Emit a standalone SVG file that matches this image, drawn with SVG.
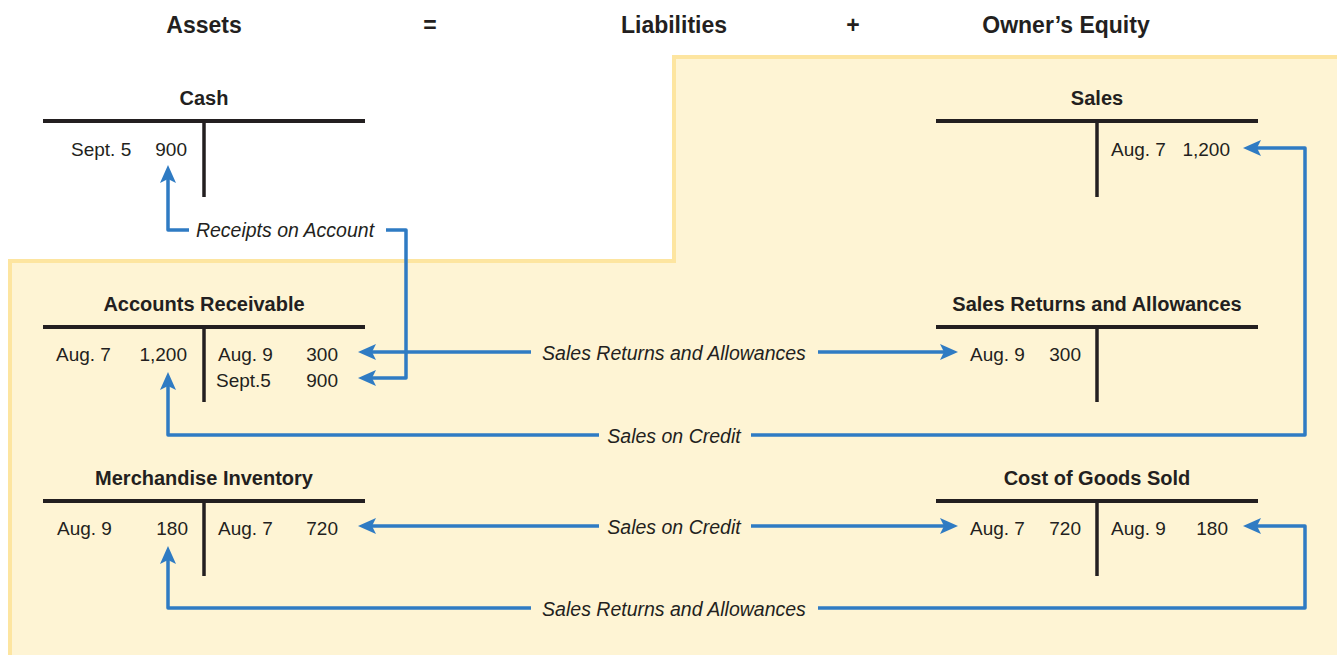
<svg xmlns="http://www.w3.org/2000/svg" width="1337" height="655" viewBox="0 0 1337 655">
<defs>
<style>
.hd{font-family:"Liberation Sans",Arial,sans-serif;font-weight:bold;font-size:23px;fill:#231F20;text-anchor:middle}
.tt{font-family:"Liberation Sans",Arial,sans-serif;font-weight:bold;font-size:20px;fill:#231F20;text-anchor:middle}
.d{font-family:"Liberation Sans",Arial,sans-serif;font-size:19px;fill:#231F20}
.n{text-anchor:end}
.lb{font-family:"Liberation Sans",Arial,sans-serif;font-style:italic;font-size:19.5px;fill:#231F20;text-anchor:middle}
.bar{stroke:#231F20;stroke-width:4;fill:none}
.stem{stroke:#231F20;stroke-width:3.5;fill:none}
.con{stroke:#2F7BC3;stroke-width:3.5;fill:none;stroke-linejoin:round;marker-start:url(#ah);marker-end:url(#ah)}
</style>
<marker id="ah" markerUnits="userSpaceOnUse" viewBox="-9 -9 20 18" refX="0" refY="0" markerWidth="20" markerHeight="18" orient="auto-start-reverse">
<path d="M10,0 L-8,-8 L-4,0 L-8,8 Z" fill="#2F7BC3"/>
</marker>
</defs>
<rect width="1337" height="655" fill="#FFFFFF"/>
<path id="equity-area" d="M674,57 H1345 V665 H10 V261 H674 Z" fill="#FEF4D4" stroke="#FDE5A0" stroke-width="4"/>
<g id="header">
<text class="hd" x="204" y="33">Assets</text>
<text class="hd" x="430" y="33">=</text>
<text class="hd" x="674" y="33">Liabilities</text>
<text class="hd" x="853" y="33">+</text>
<text class="hd" x="1066" y="33">Owner’s Equity</text>
</g>
<g id="cash">
<text class="tt" x="204" y="105">Cash</text>
<path class="bar" d="M43,121 H365"/>
<path class="stem" d="M204,121 V197"/>
<text class="d" x="71" y="156">Sept. 5</text>
<text class="d n" x="187" y="156">900</text>
</g>
<g id="sales">
<text class="tt" x="1097" y="105">Sales</text>
<path class="bar" d="M936,121 H1258"/>
<path class="stem" d="M1097,121 V197"/>
<text class="d" x="1111" y="156">Aug. 7</text>
<text class="d n" x="1230" y="156">1,200</text>
</g>
<g id="accounts-receivable">
<text class="tt" x="204" y="311">Accounts Receivable</text>
<path class="bar" d="M43,327 H365"/>
<path class="stem" d="M204,327 V402"/>
<text class="d" x="56" y="361">Aug. 7</text>
<text class="d n" x="187" y="361">1,200</text>
<text class="d" x="218" y="361">Aug. 9</text>
<text class="d n" x="338" y="361">300</text>
<text class="d" x="216" y="387">Sept.5</text>
<text class="d n" x="338" y="387">900</text>
</g>
<g id="sales-returns">
<text class="tt" x="1097" y="311">Sales Returns and Allowances</text>
<path class="bar" d="M936,327 H1258"/>
<path class="stem" d="M1097,327 V402"/>
<text class="d" x="970" y="361">Aug. 9</text>
<text class="d n" x="1081" y="361">300</text>
</g>
<g id="merchandise-inventory">
<text class="tt" x="204" y="485">Merchandise Inventory</text>
<path class="bar" d="M43,501 H365"/>
<path class="stem" d="M204,501 V576"/>
<text class="d" x="57" y="535">Aug. 9</text>
<text class="d n" x="188" y="535">180</text>
<text class="d" x="218" y="535">Aug. 7</text>
<text class="d n" x="338" y="535">720</text>
</g>
<g id="cost-of-goods-sold">
<text class="tt" x="1097" y="485">Cost of Goods Sold</text>
<path class="bar" d="M936,501 H1258"/>
<path class="stem" d="M1097,501 V576"/>
<text class="d" x="970" y="535">Aug. 7</text>
<text class="d n" x="1081" y="535">720</text>
<text class="d" x="1111" y="535">Aug. 9</text>
<text class="d n" x="1228" y="535">180</text>
</g>
<g id="connectors">
<path class="con" d="M368,378 H406 V230 H386 M189,230 H168 V175"/>
<path class="con" d="M368,352 H531 M818,352 H948"/>
<path class="con" d="M168,382 V435 H599 M751,435 H1305 V148 H1253"/>
<path class="con" d="M368,526 H599 M751,526 H948"/>
<path class="con" d="M1253,526 H1305 V608 H818 M531,608 H168 V556"/>
<text class="lb" x="285" y="237">Receipts on Account</text>
<text class="lb" x="674" y="360">Sales Returns and Allowances</text>
<text class="lb" x="674" y="443">Sales on Credit</text>
<text class="lb" x="674" y="534">Sales on Credit</text>
<text class="lb" x="674" y="616">Sales Returns and Allowances</text>
</g>
</svg>
